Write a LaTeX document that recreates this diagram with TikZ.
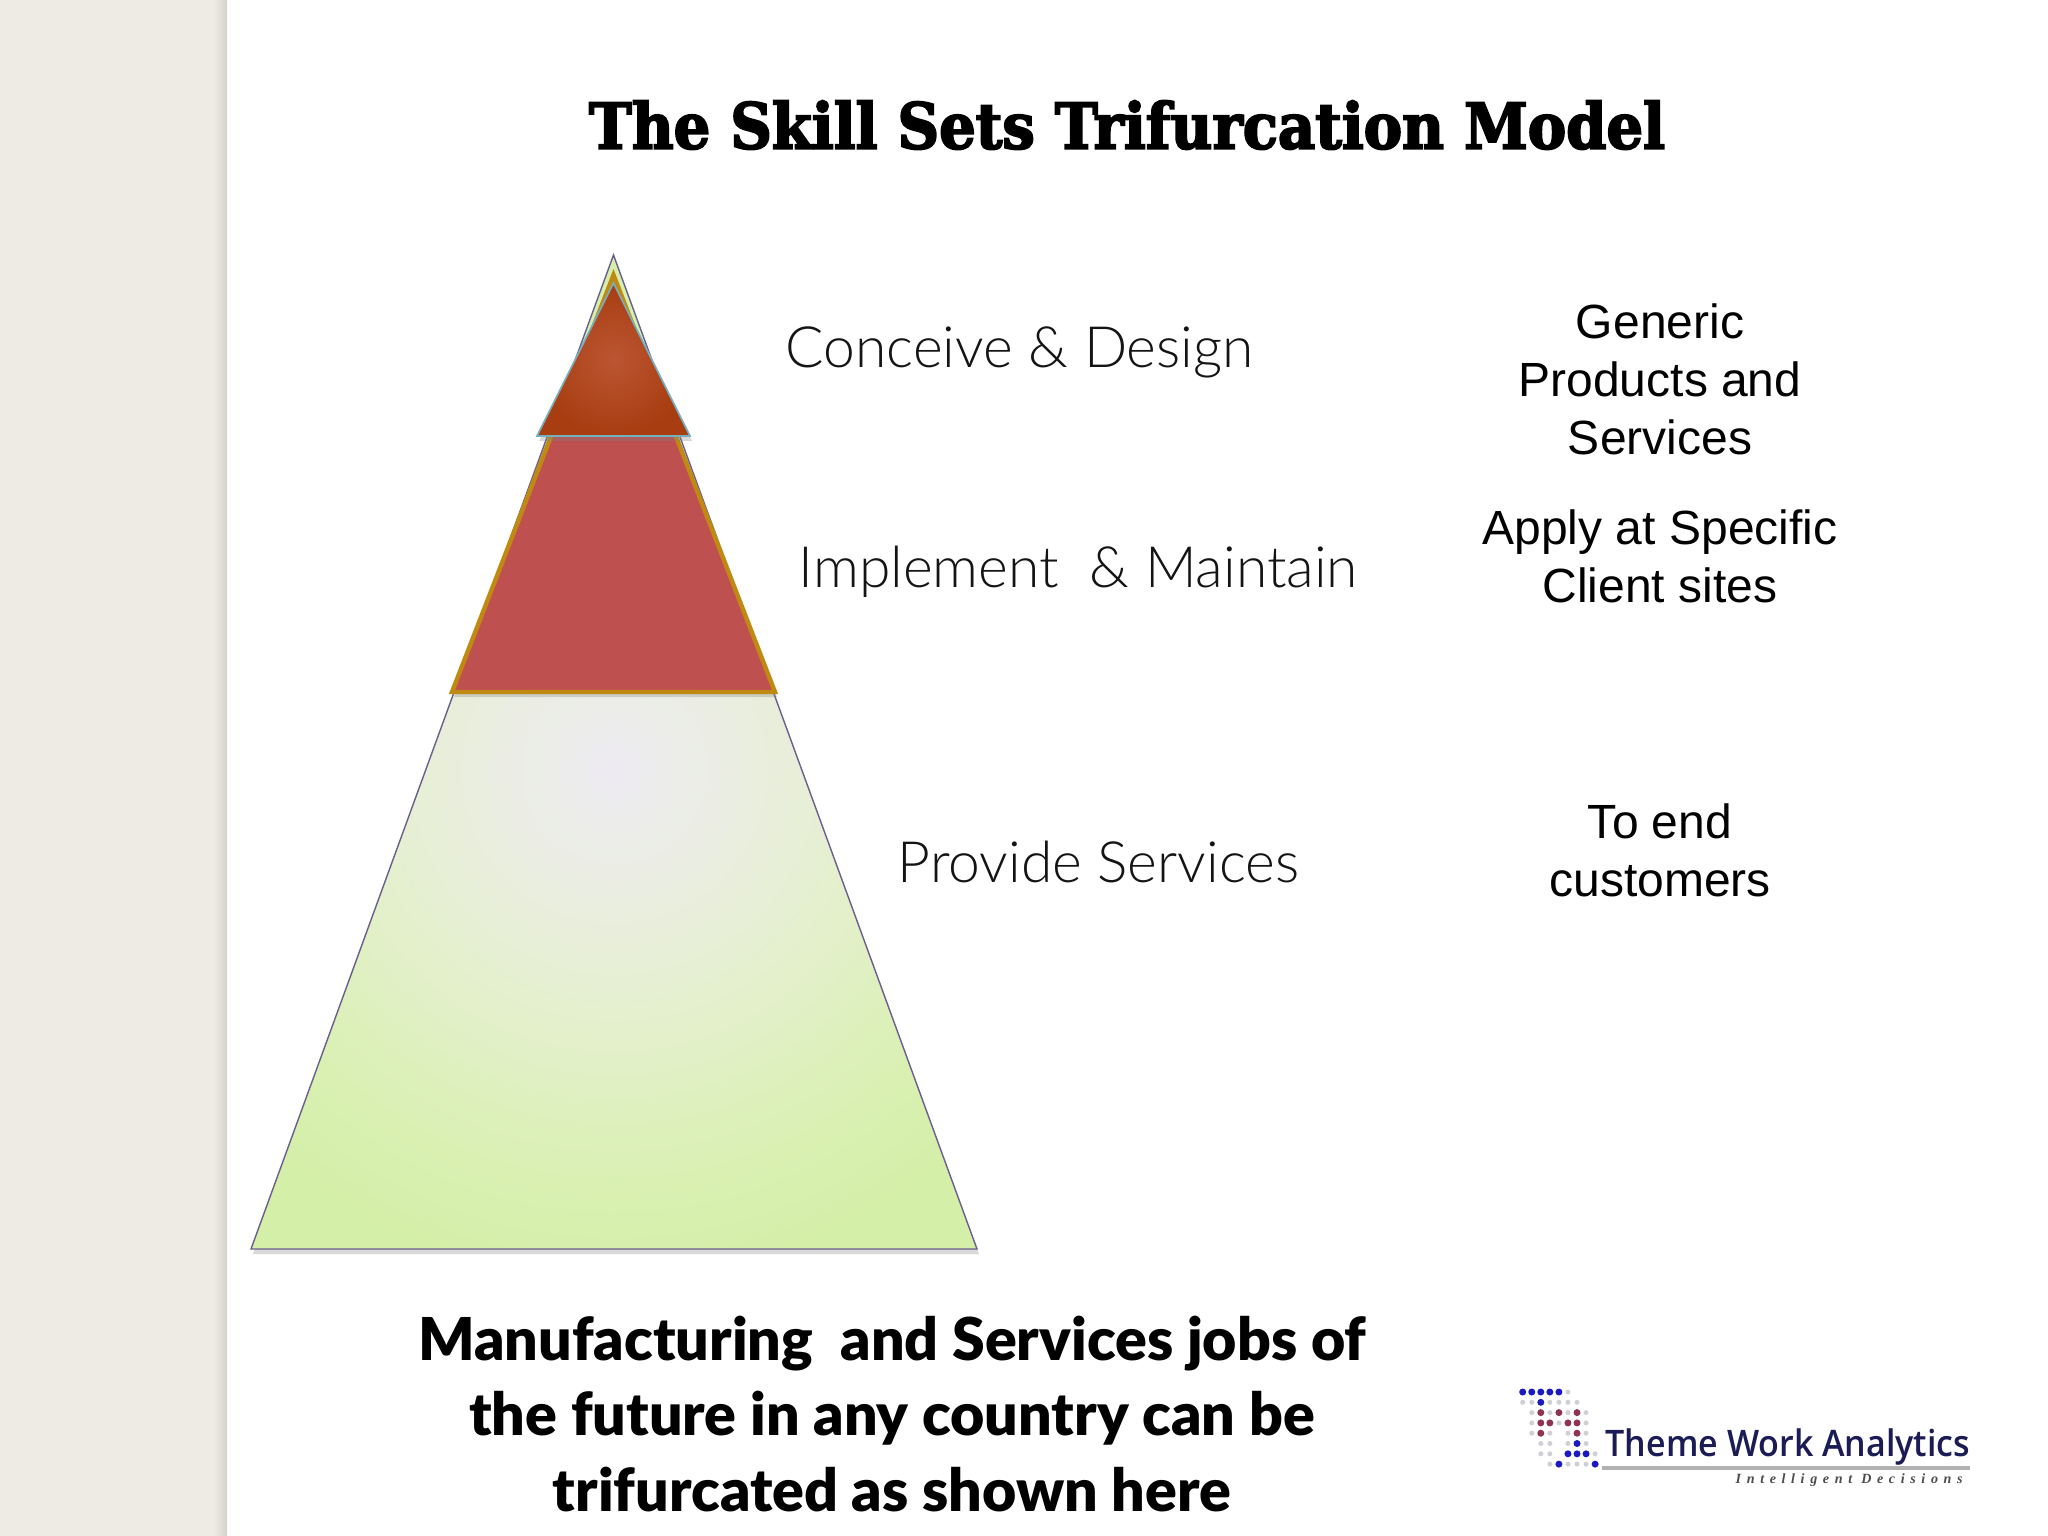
\documentclass[tikz,border=0pt]{standalone}
\usepackage{fontspec}
\usepackage{tikz}
\usetikzlibrary{shadows}
\setmainfont{Liberation Sans}
\newfontfamily\titlefont[FakeBold=3,FakeStretch=0.91]{DejaVu Serif Bold}
\newfontfamily\levelfont{Lato Light}
\newfontfamily\notefont{Liberation Sans}
\newfontfamily\closefont{Lato Black}
\newfontfamily\logofont[FakeStretch=0.93]{Open Sans Semibold}
\newfontfamily\tagfont[LetterSpace=40]{Liberation Serif Bold Italic}
\definecolor{sidebar}{HTML}{EDEBE4}
\definecolor{sideedge}{HTML}{D3D1CA}
\definecolor{greenfill}{HTML}{D4EFA8}
\definecolor{greenmid}{HTML}{D9F0B2}
\definecolor{greensoft}{HTML}{E4F0CC}
\definecolor{greenpale}{HTML}{EBEDE4}
\definecolor{greencore}{HTML}{EDEBF2}
\definecolor{greenline}{HTML}{6A5F90}
\definecolor{redfill}{HTML}{BE5050}
\definecolor{redline}{HTML}{C08A12}
\definecolor{topline}{HTML}{74B0BE}
\definecolor{topmid}{HTML}{BC5533}
\definecolor{topedge}{HTML}{A73D10}
\definecolor{logonavy}{HTML}{1B1B55}
\definecolor{logoblue}{HTML}{1A1AC0}
\definecolor{logored}{HTML}{8E3350}
\definecolor{logogray}{HTML}{CFCFD6}
\pgfdeclareradialshading{baseglow}{\pgfpoint{0bp}{0bp}}{%
  color(0bp)=(greencore);
  color(5bp)=(greenpale);
  color(12.5bp)=(greensoft);
  color(20bp)=(greenmid);
  color(25bp)=(greenfill);
  color(50bp)=(greenfill)}
\tikzset{softshadow/.style={drop shadow={shadow xshift=0.02cm,shadow yshift=-0.05cm,opacity=0.3}}}
\tikzset{level/.style={inner sep=0pt,anchor=west,text=black!92,font=\levelfont\fontsize{16.2}{19}\selectfont}}
\tikzset{note/.style={inner sep=0pt,align=center,text=black,font=\notefont\fontsize{13.65}{16.5}\selectfont}}
\tikzset{dotblue/.style={circle,fill=logoblue,inner sep=0pt,minimum width=0.07cm}}
\tikzset{dotred/.style={circle,fill=logored,inner sep=0pt,minimum width=0.07cm}}
\tikzset{dotgray/.style={circle,fill=logogray,inner sep=0pt,minimum width=0.05cm}}
\begin{document}
\begin{tikzpicture}[x=0.01cm,y=-0.01cm]
\useasboundingbox (0,0) rectangle (2048,1536);
\fill[white] (0,0) rectangle (2048,1536);
\fill[sidebar] (0,0) rectangle (214,1536);
\shade[left color=sidebar,right color=sideedge] (214,0) rectangle (227,1536);

\coordinate (greenapex) at (613.5,255);
\coordinate (greenleft) at (251,1249);
\coordinate (greenright) at (977,1249);
\coordinate (redapex) at (613.5,275);
\coordinate (redleft) at (452,692);
\coordinate (redright) at (775,692);
\coordinate (topapex) at (613.5,283);
\coordinate (topleft) at (537,436);
\coordinate (topright) at (690,436);

\fill[greenfill,softshadow] (greenapex) -- (greenleft) -- (greenright) -- cycle;
\begin{scope}
\clip (greenapex) -- (greenleft) -- (greenright) -- cycle;
\shade[shading=baseglow] (614,770) circle (520);
\end{scope}
\draw[greenline,line width=0.4pt,line join=miter] (greenapex) -- (greenleft) -- (greenright) -- cycle;
\draw[redline,line width=1.25pt,fill=redfill,line join=miter,softshadow] (redapex) -- (redleft) -- (redright) -- cycle;
\shade[draw=topline,line width=0.5pt,line join=miter,inner color=topmid,outer color=topedge,softshadow] (topapex) -- (topleft) -- (topright) -- cycle;

\node[inner sep=0pt] (title) at (1127,125) {\titlefont\fontsize{18}{22}\selectfont The Skill Sets Trifurcation Model};

\node[level] (conceive) at (785,352) {Conceive \& Design};
\node[level] (implement) at (798,572) {Implement\ \ \& Maintain};
\node[level] (provide) at (897,862) {Provide Services};

\node[note] (generic) at (1660,379) {Generic\\Products and\\Services};
\node[note] (apply) at (1660,556) {Apply at Specific\\Client sites};
\node[note] (endcust) at (1660,850) {To end\\customers};

\node[inner sep=0pt,align=center,font=\closefont\fontsize{16.8}{21.5}\selectfont] (closing) at (892,1414)
  {Manufacturing\ \ and Services jobs of\\the future in any country can be\\trifurcated as shown here};

\foreach \col/\row in {5/0,0/1,1/1,3/1,4/1,5/1,6/1,1/2,3/2,5/2,7/2,1/3,4/3,7/3,1/4,3/4,5/4,7/4,2/5,3/5,5/5,7/5,2/6,3/6,8/6,3/7,5/7,6/7,7/7}
  \node[dotgray] (g\col\row) at (1522.7+9.05*\col,1392+10.3*\row) {};
\foreach \col/\row in {0/0,1/0,2/0,3/0,4/0,2/1,6/5,5/6,6/6,7/6,4/7,8/7}
  \node[dotblue] (b\col\row) at (1522.7+9.05*\col,1392+10.3*\row) {};
\foreach \col/\row in {2/2,4/2,6/2,2/3,3/3,5/3,6/3,2/4,6/4}
  \node[dotred] (r\col\row) at (1522.7+9.05*\col,1392+10.3*\row) {};

\node[inner sep=0pt,anchor=base west,text=logonavy,font=\logofont\fontsize{10.4}{12}\selectfont] (logoname) at (1605,1456) {Theme Work Analytics};
\draw[black!30,line width=1.1pt] (1602,1468) -- (1970,1468);
\node[inner sep=0pt,anchor=base west,text=black!70,font=\tagfont\fontsize{4}{5}\selectfont] (logotag) at (1735,1483) {Intelligent Decisions};
\end{tikzpicture}
\end{document}
